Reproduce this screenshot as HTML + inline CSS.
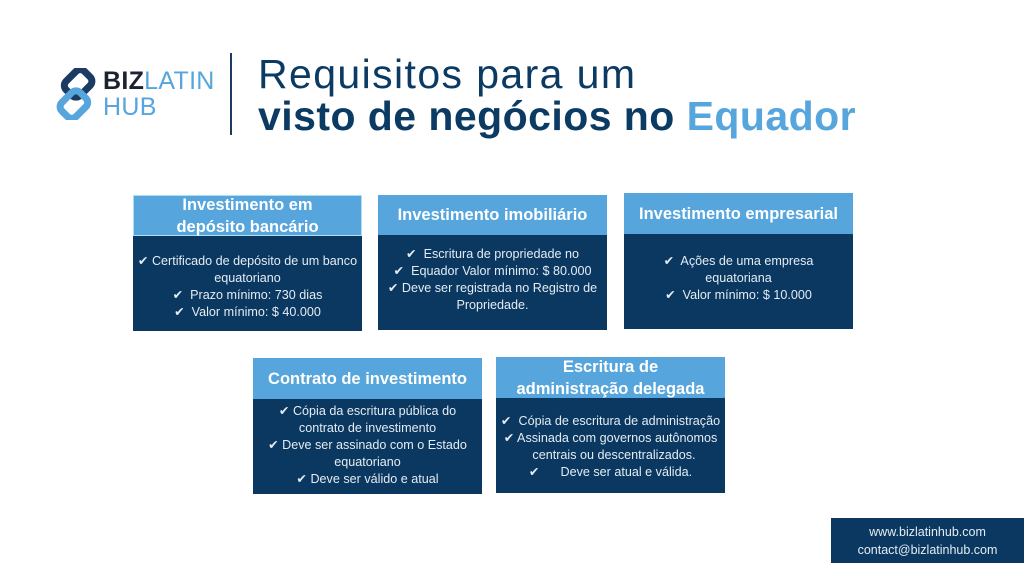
<!DOCTYPE html>
<html><head><meta charset="utf-8"><style>
body{margin:0;width:1024px;height:576px;background:#fff;position:relative;overflow:hidden;font-family:"Liberation Sans",sans-serif}
.a{position:absolute}
.h{position:absolute;background:#56a5dc;color:#fff;font-weight:bold;font-size:16.5px;text-align:center;display:flex;align-items:center;justify-content:center;line-height:22px}
.b{position:absolute;background:#0b3860;color:#e4ecf3;font-size:12.6px;text-align:center;line-height:17px;box-sizing:border-box}
</style></head><body>
<svg class="a" style="left:52px;top:68px" width="48" height="52" viewBox="0 0 48 52">
<g transform="rotate(45 24 26)">
<rect x="8" y="4" width="20" height="26" rx="6" fill="none" stroke="#1b3b63" stroke-width="7"/>
<rect x="20" y="22" width="20" height="26" rx="6" fill="none" stroke="#56a5dc" stroke-width="7"/>
</g></svg>
<div class="a" style="left:103px;top:68px;font-size:25px;line-height:26px;letter-spacing:0.3px"><b style="color:#1c2230">BIZ</b><span style="color:#56a5dc">LATIN</span><br><span style="color:#56a5dc">HUB</span></div>
<div class="a" style="left:230px;top:53px;width:2px;height:82px;background:#1b3b63"></div>
<div class="a" style="left:258px;top:53px;font-size:41px;line-height:42px;letter-spacing:1.4px;color:#0b3a63">Requisitos para um</div>
<div class="a" style="left:258px;top:94px;font-size:41px;line-height:44px;letter-spacing:0.45px;color:#0b3a63;font-weight:bold">visto de negócios no <span style="color:#56a5dc">Equador</span></div>

<div class="h" style="left:133px;top:195px;width:229px;height:41px;border:1px solid #aee0ee;box-sizing:border-box">Investimento em<br>depósito bancário</div>
<div class="b" style="left:133px;top:236px;width:229px;height:95px;padding-top:17px">✔ Certificado de depósito de um banco<br>equatoriano<br>✔&nbsp; Prazo mínimo: 730 dias<br>✔&nbsp; Valor mínimo: $ 40.000</div>

<div class="h" style="left:378px;top:195px;width:229px;height:40px">Investimento imobiliário</div>
<div class="b" style="left:378px;top:235px;width:229px;height:95px;padding-top:11px">✔&nbsp; Escritura de propriedade no<br>✔&nbsp; Equador Valor mínimo: $ 80.000<br>✔ Deve ser registrada no Registro de<br>Propriedade.</div>

<div class="h" style="left:624px;top:193px;width:229px;height:41px">Investimento empresarial</div>
<div class="b" style="left:624px;top:234px;width:229px;height:95px;padding-top:19px">✔&nbsp; Ações de uma empresa<br>equatoriana<br>✔&nbsp; Valor mínimo: $ 10.000</div>

<div class="h" style="left:253px;top:358px;width:229px;height:41px">Contrato de investimento</div>
<div class="b" style="left:253px;top:399px;width:229px;height:95px;padding-top:4px">✔ Cópia da escritura pública do<br>contrato de investimento<br>✔ Deve ser assinado com o Estado<br>equatoriano<br>✔ Deve ser válido e atual</div>

<div class="h" style="left:496px;top:357px;width:229px;height:41px">Escritura de<br>administração delegada</div>
<div class="b" style="left:496px;top:398px;width:229px;height:95px;padding-top:15px">✔&nbsp; Cópia de escritura de administração<br>✔ Assinada com governos autônomos<br>&nbsp; centrais ou descentralizados.<br>✔&nbsp;&nbsp;&nbsp;&nbsp;&nbsp; Deve ser atual e válida.</div>

<div class="b" style="left:831px;top:518px;width:193px;height:45px;padding-top:5px;font-size:12.5px;line-height:18px">www.bizlatinhub.com<br>contact@bizlatinhub.com</div>
</body></html>
